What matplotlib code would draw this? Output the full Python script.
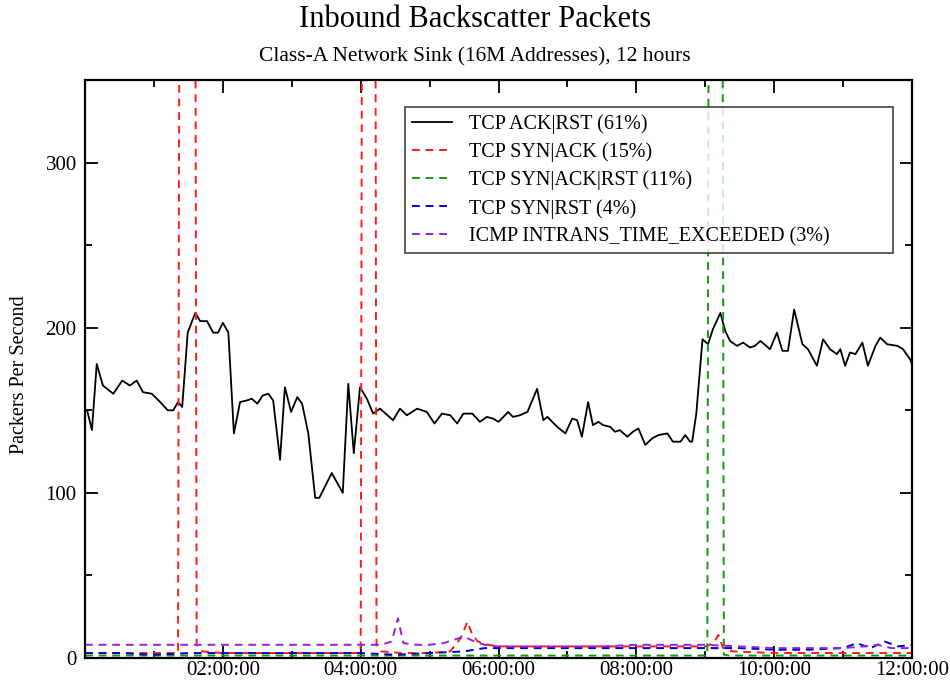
import matplotlib
matplotlib.use("Agg")
import matplotlib.pyplot as plt
from matplotlib.ticker import MultipleLocator, FuncFormatter

plt.rcParams["font.family"] = ["Liberation Serif", "DejaVu Serif"]

# TCP ACK|RST (hours, packets/s)
ack_rst_t = [0.0, 0.03, 0.10, 0.17, 0.26, 0.41, 0.54, 0.65, 0.75, 0.84, 0.97, 1.09,
             1.20, 1.28, 1.35, 1.41, 1.49, 1.60, 1.67, 1.77, 1.86, 1.93, 2.00, 2.08,
             2.16, 2.25, 2.35, 2.42, 2.50, 2.58, 2.66, 2.73, 2.83, 2.90, 2.99, 3.08,
             3.15, 3.24, 3.34, 3.40, 3.58, 3.74, 3.82, 3.90, 3.99, 4.09, 4.18, 4.28,
             4.47, 4.57, 4.67, 4.82, 4.96, 5.07, 5.18, 5.30, 5.40, 5.49, 5.62, 5.73,
             5.83, 5.92, 6.00, 6.14, 6.21, 6.31, 6.42, 6.49, 6.56, 6.65, 6.71, 6.85,
             6.97, 7.07, 7.14, 7.21, 7.30, 7.37, 7.45, 7.52, 7.62, 7.69, 7.76, 7.87,
             7.95, 8.03, 8.13, 8.23, 8.32, 8.45, 8.53, 8.64, 8.71, 8.78, 8.81, 8.87,
             8.96, 9.04, 9.11, 9.22, 9.29, 9.36, 9.46, 9.55, 9.65, 9.72, 9.80, 9.94,
             10.04, 10.12, 10.20, 10.29, 10.41, 10.49, 10.62, 10.71, 10.81, 10.91,
             10.96, 11.03, 11.10, 11.18, 11.28, 11.36, 11.47, 11.54, 11.64, 11.79,
             11.87, 11.97, 12.0]
ack_rst_v = [150, 150, 138, 178, 165, 160, 168, 165, 168, 161, 160, 155,
             150, 150, 155, 152, 197, 209, 204, 204, 197, 197, 203, 197,
             136, 155, 156, 157, 154, 159, 160, 156, 120, 164, 149, 158,
             154, 136, 97, 97, 112, 100, 166, 124, 164, 157, 148, 151,
             144, 151, 147, 151, 149, 142, 148, 147, 142, 148, 148, 143,
             146, 145, 143, 149, 146, 147, 149, 156, 163, 144, 146, 140,
             136, 145, 144, 134, 155, 141, 143, 141, 140, 137, 138, 134,
             137, 139, 129, 133, 135, 136, 131, 131, 135, 131, 131, 148,
             193, 190, 199, 209, 198, 192, 189, 191, 188, 189, 192, 187,
             197, 186, 186, 211, 190, 187, 177, 193, 187, 184,
             187, 177, 185, 184, 191, 177, 189, 194, 190, 189,
             187, 181, 178]

# TCP SYN|ACK
syn_ack_t = [0.0, 0.5, 1.0, 1.3, 1.35, 1.42, 1.55, 1.62, 1.7, 2.0, 2.5, 3.0, 3.5,
             3.95, 4.0, 4.07, 4.17, 4.23, 4.3, 4.6, 5.0, 5.3, 5.45, 5.55, 5.62,
             5.7, 5.85, 6.0, 6.5, 7.0, 7.5, 8.0, 8.5, 9.0, 9.12, 9.19, 9.26, 9.4,
             10.0, 10.5, 11.0, 11.5, 12.0]
syn_ack_v = [3, 3, 3, 3, 3, 1500, 1500, 8, 4, 3, 3, 3, 3,
             3, 3, 1500, 1500, 8, 4, 3, 3, 4, 12, 22, 14,
             10, 8, 7, 7, 7, 7, 7, 7, 7, 9, 14, 6, 4,
             3, 3, 3, 3, 3]

# TCP SYN|ACK|RST
syn_ack_rst_t = [0.0, 3.0, 6.0, 9.0, 9.03, 9.1, 9.2, 9.27, 9.35, 12.0]
syn_ack_rst_v = [1.5, 1.5, 1.5, 1.5, 2, 1500, 1500, 2, 1.5, 1.5]

# TCP SYN|RST
syn_rst_t = [0.0, 0.5, 1.0, 1.5, 2.0, 2.5, 3.0, 3.5, 4.0, 4.5, 5.0, 5.5, 5.8,
             6.0, 6.5, 7.0, 7.5, 8.0, 8.5, 9.0, 9.5, 10.0, 10.5, 11.0, 11.2,
             11.4, 11.6, 11.8, 12.0]
syn_rst_v = [3, 3, 2, 3, 3, 3, 3, 3, 3, 2, 3, 4, 6,
             6, 6, 6, 6, 6, 6, 6, 6, 5, 5, 6, 9,
             6, 10, 7, 8]

# ICMP INTRANS_TIME_EXCEEDED
icmp_t = [0.0, 0.5, 1.0, 1.5, 2.0, 2.5, 3.0, 3.5, 4.0, 4.3, 4.45, 4.54, 4.62,
          4.8, 5.0, 5.2, 5.35, 5.5, 5.65, 5.8, 6.0, 6.5, 7.0, 7.5, 8.0, 8.5,
          9.0, 9.5, 10.0, 10.5, 11.0, 11.3, 11.5, 11.7, 12.0]
icmp_v = [8, 8, 8, 8, 8, 8, 8, 8, 8, 8, 10, 24, 9,
          8, 8, 9, 11, 13, 10, 8, 7, 7, 7, 7, 8, 8,
          8, 7, 6, 6, 6, 7, 8, 6, 6]

labels = ["TCP ACK|RST (61%)", "TCP SYN|ACK (15%)", "TCP SYN|ACK|RST (11%)",
          "TCP SYN|RST (4%)", "ICMP INTRANS_TIME_EXCEEDED (3%)"]

fig = plt.figure(figsize=(9.5, 6.88), dpi=100)
ax = fig.add_axes([0.0895, 0.0436, 0.8705, 0.8401])

dash = (0, (4, 3))
ax.plot(ack_rst_t, ack_rst_v, color="black", lw=1.3, label=labels[0])
ax.plot(syn_ack_t, syn_ack_v, color="#ff1a1a", lw=1.4, ls=dash, label=labels[1])
ax.plot(syn_ack_rst_t, syn_ack_rst_v, color="#119911", lw=1.4, ls=dash, label=labels[2])
ax.plot(syn_rst_t, syn_rst_v, color="#0000cc", lw=1.4, ls=dash, label=labels[3])
ax.plot(icmp_t, icmp_v, color="#9a1ee0", lw=1.4, ls=dash, label=labels[4])

ax.set_xlim(0, 12)
ax.set_ylim(0, 350)
ax.xaxis.set_major_locator(MultipleLocator(2))
ax.xaxis.set_minor_locator(MultipleLocator(1))
ax.yaxis.set_major_locator(MultipleLocator(100))
ax.yaxis.set_minor_locator(MultipleLocator(50))
ax.xaxis.set_major_formatter(FuncFormatter(lambda v, p: "" if v == 0 else "%02d:00:00" % v))
ax.tick_params(which="both", direction="in", top=True, right=True, width=1.3, labelsize=15)
ax.tick_params(which="major", length=9)
ax.tick_params(which="minor", length=5)
ax.tick_params(axis="x", pad=2)
ax.tick_params(axis="y", pad=6)
for s in ax.spines.values():
    s.set_linewidth(1.6)

ax.set_ylabel("Packers Per Second", fontsize=14.5)
ax.yaxis.set_label_coords(-0.068, 0.49)

leg = ax.legend(loc="upper left", bbox_to_anchor=(0.387, 0.697, 0.59, 0.256), mode="expand",
                fontsize=14.5, frameon=True, fancybox=False, edgecolor="#333333",
                handlelength=2.0, handletextpad=0.8, labelspacing=0.42, borderpad=0.35,
                borderaxespad=0)
leg.get_frame().set_linewidth(1.4)

fig.text(0.5, 0.972, "Inbound Backscatter Packets", ha="center", va="center", fontsize=22)
fig.text(0.5, 0.918, "Class-A Network Sink (16M Addresses), 12 hours", ha="center",
         va="center", fontsize=15.5)

fig.savefig("out.png", dpi=100)
